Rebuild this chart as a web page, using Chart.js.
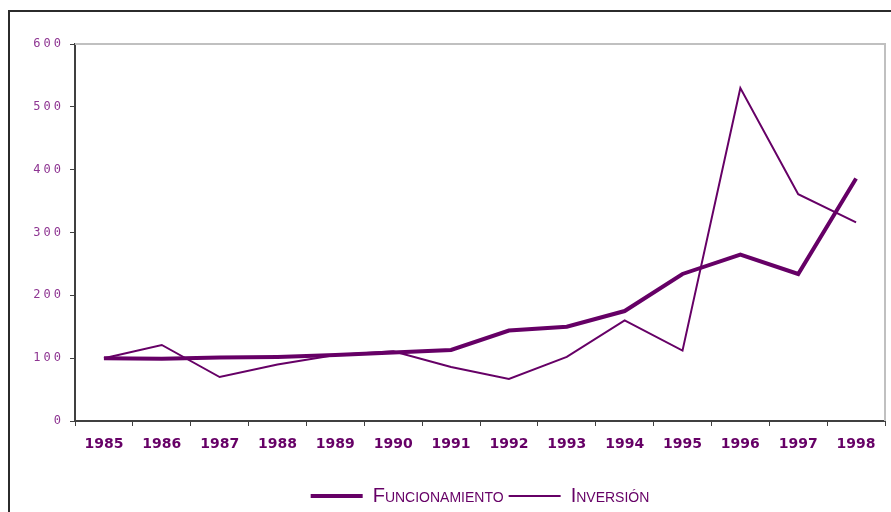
<!DOCTYPE html>
<html>
<head>
<meta charset="utf-8">
<script src="https://cdn.jsdelivr.net/npm/chart.js@4/dist/chart.umd.min.js"></script>
<style>
  html, body { margin: 0; padding: 0; background: #fff; }
  #frame {
    position: absolute; left: 8px; top: 10px; width: 1000px; height: 1000px;
    border-top: 2px solid #2b2b2b; border-left: 2px solid #2b2b2b;
  }
  #wrap { position: absolute; left: 0; top: 0; width: 891px; height: 512px; }
</style>
</head>
<body>
<div id="frame"></div>
<div id="wrap"><canvas id="gastoChart"></canvas></div>
<script>
// years on the x axis
const years = ['1985', '1986', '1987', '1988', '1989', '1990', '1991',
  '1992', '1993', '1994', '1995', '1996', '1997', '1998'];

// index values (1985 = 100)
const funcionamiento = [100, 99, 101, 102, 105, 109, 113, 144, 150, 175, 234, 265, 234, 386];
const inversion = [100, 121, 70, 90, 105, 111, 86, 67, 102, 160, 112, 530, 361, 316];

const purple = '#660066';

// grey top / right edge of the plot area
const plotFrame = {
  id: 'plotFrame',
  beforeDatasetsDraw(chart) {
    const { ctx, chartArea: a } = chart;
    ctx.save();
    ctx.strokeStyle = '#c0c0c0';
    ctx.lineWidth = 2;
    ctx.beginPath();
    ctx.moveTo(a.left, a.top);
    ctx.lineTo(a.right, a.top);
    ctx.lineTo(a.right, a.bottom);
    ctx.stroke();
    ctx.restore();
  }
};

// the y labels are drawn spaced out in the original
const spacedY = {
  id: 'spacedY',
  beforeDraw(chart) {
    const y = chart.scales.y;
    if (y._spaced) return;
    const orig = y.drawLabels.bind(y);
    y.drawLabels = function (area) {
      chart.ctx.save();
      chart.ctx.letterSpacing = '3px';
      orig(area);
      chart.ctx.restore();
    };
    y._spaced = true;
  }
};

new Chart(document.getElementById('gastoChart'), {
  type: 'line',
  data: {
    labels: years,
    datasets: [
      {
        label: 'Funcionamiento',
        data: funcionamiento,
        borderColor: purple,
        backgroundColor: purple,
        borderWidth: 4,
        pointRadius: 0,
        tension: 0
      },
      {
        label: 'Inversión',
        data: inversion,
        borderColor: purple,
        backgroundColor: purple,
        borderWidth: 2,
        pointRadius: 0,
        tension: 0
      }
    ]
  },
  options: {
    responsive: true,
    maintainAspectRatio: false,
    animation: false,
    layout: { padding: { top: 44, right: 6, left: 0, bottom: -4 } },
    plugins: {
      tooltip: { enabled: false },
      legend: {
        position: 'bottom',
        fullSize: false, // centre it under the plot area, not the whole canvas
        labels: {
          usePointStyle: true,
          pointStyle: 'line',
          pointStyleWidth: 52,
          boxHeight: 18,
          padding: 5,
          color: purple,
          // weight slot carries the small-caps variant into the canvas font string
          font: { family: 'Liberation Sans', size: 20, weight: 'small-caps' }
        }
      }
    },
    scales: {
      x: {
        offset: true,
        grid: { offset: true, drawOnChartArea: false, color: '#404040', tickLength: 5 },
        border: { color: '#404040', width: 2 },
        ticks: {
          color: purple,
          padding: 10,
          maxRotation: 0,
          font: { family: 'DejaVu Sans', size: 14, weight: 'bold' }
        },
        afterFit(scale) { scale.height = 60; }
      },
      y: {
        min: 0,
        max: 600,
        grid: { drawOnChartArea: false, color: '#404040', tickLength: 5 },
        border: { color: '#404040', width: 2 },
        ticks: {
          stepSize: 100,
          color: '#8e3592',
          padding: 6,
          font: { family: 'DejaVu Sans Mono', size: 12 }
        },
        afterFit(scale) { scale.width = 75; }
      }
    }
  },
  plugins: [plotFrame, spacedY]
});
</script>
</body>
</html>
